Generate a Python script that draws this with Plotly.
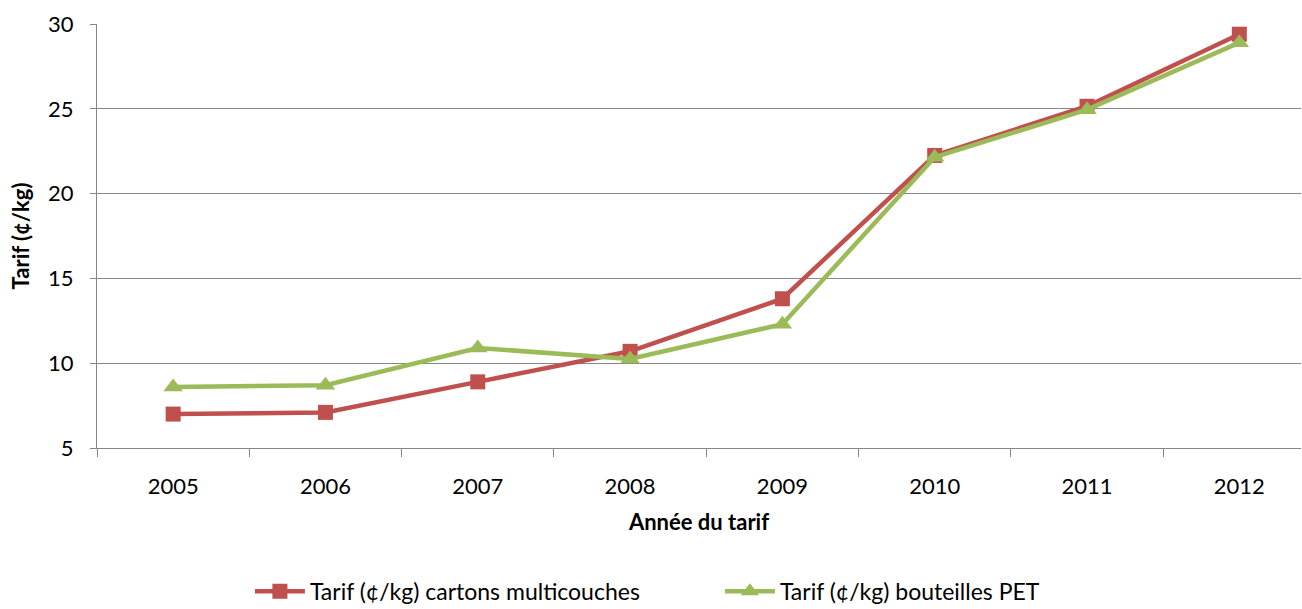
import plotly.graph_objects as go

years = ["2005", "2006", "2007", "2008", "2009", "2010", "2011", "2012"]
cartons = [7.0, 7.1, 8.9, 10.7, 13.8, 22.25, 25.15, 29.4]
pet = [8.6, 8.7, 10.9, 10.25, 12.3, 22.15, 24.95, 28.9]

red = "#C0504D"
green = "#9BBB59"
grid = "#878787"
font_family = "Lato, 'Open Sans', sans-serif"

fig = go.Figure()
fig.add_trace(go.Scatter(
    x=years, y=cartons, mode="lines+markers",
    name="Tarif (¢/kg) cartons multicouches",
    line=dict(color=red, width=4.5),
    marker=dict(symbol="square", size=15, color=red),
))
fig.add_trace(go.Scatter(
    x=years, y=pet, mode="lines+markers",
    name="Tarif (¢/kg) bouteilles PET",
    line=dict(color=green, width=4.5),
    marker=dict(symbol="triangle-up", size=17, color=green),
))

fig.update_layout(
    width=1302, height=609,
    margin=dict(l=97, r=1, t=24, b=161, autoexpand=False),
    paper_bgcolor="white", plot_bgcolor="white",
    font=dict(family=font_family, size=22, color="#000000"),
    showlegend=True,
    legend=dict(orientation="h", x=0.127, xanchor="left", y=-0.338, yanchor="middle",
                font=dict(size=23), tracegroupgap=0, itemwidth=50, entrywidth=405),
    xaxis=dict(
        type="category", range=[-0.5, 7.405], automargin=False,
        showline=True, linecolor=grid, linewidth=1.3,
        ticks="outside", ticklen=8, tickcolor=grid, tickwidth=1.3,
        tickson="boundaries", showgrid=False, ticklabelstandoff=18,
        title=dict(text="<b>Année du tarif</b>", font=dict(size=22), standoff=17),
    ),
    yaxis=dict(
        range=[5, 30], tickvals=[5, 10, 15, 20, 25, 30], automargin=False,
        showline=True, linecolor=grid, linewidth=1.3,
        ticks="outside", ticklen=6, tickcolor=grid, tickwidth=1.3,
        showgrid=True, gridcolor=grid, gridwidth=1.3, zeroline=False,
        ticklabelstandoff=12,
        title=dict(text="<b>Tarif (¢/kg)</b>", font=dict(size=22), standoff=12),
    ),
)

fig.write_html("out.html", config={"displayModeBar": False},
               post_script="document.body.style.margin='0';document.body.style.overflow='hidden';")
